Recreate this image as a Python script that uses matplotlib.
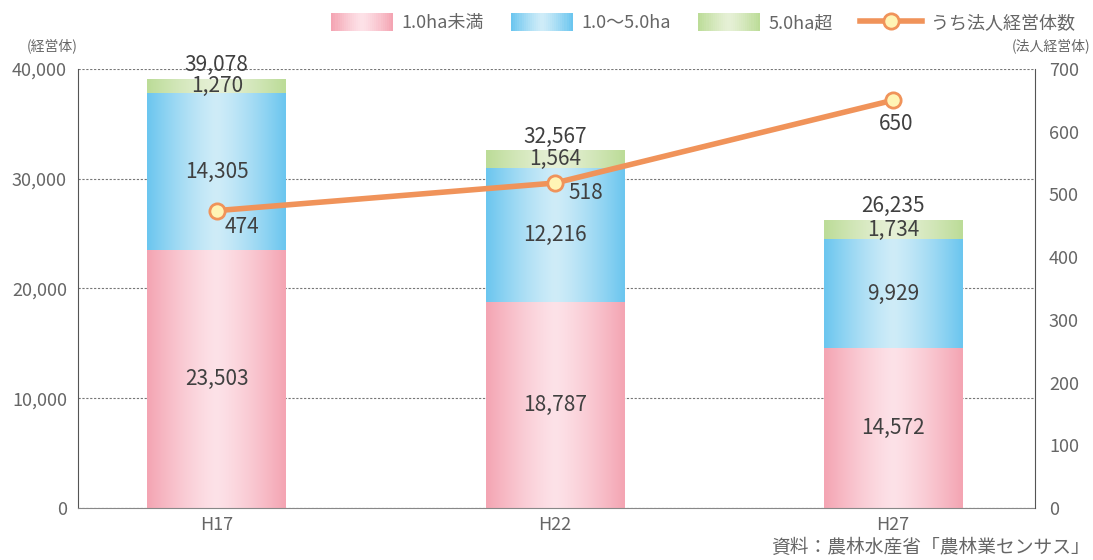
import numpy as np
import matplotlib
matplotlib.use("Agg")
import matplotlib.pyplot as plt
from matplotlib.patches import Rectangle
from matplotlib.lines import Line2D
from matplotlib.legend_handler import HandlerBase
from matplotlib.colors import to_rgb

plt.rcParams['font.family'] = ['Noto Sans CJK JP', 'DejaVu Sans']

years = ['H17', 'H22', 'H27']
small = [23503, 18787, 14572]     # 1.0ha未満
middle = [14305, 12216, 9929]     # 1.0～5.0ha
large = [1270, 1564, 1734]        # 5.0ha超
totals = [39078, 32567, 26235]
corp = [474, 518, 650]            # うち法人経営体数

seg_names = ['1.0ha未満', '1.0～5.0ha', '5.0ha超']
# (edge colour, centre colour)
seg_cols = [('#f4a5b3', '#fde2e8'), ('#6cc6ef', '#cfecf8'), ('#bcdc98', '#e6f0d6')]
line_col = '#f0935a'
text_col = '#404040'
grey = '#666666'


def grad_img(edge, centre, n=64):
    t = np.linspace(-1, 1, n)
    w = (np.abs(t) ** 1.3)[None, :, None]
    e = np.array(to_rgb(edge))[None, None, :]
    c = np.array(to_rgb(centre))[None, None, :]
    return c * (1 - w) + e * w


class GradHandler(HandlerBase):
    def __init__(self, edge, centre):
        super().__init__()
        self.edge, self.centre = edge, centre

    def create_artists(self, legend, orig_handle, xdescent, ydescent,
                       width, height, fontsize, trans):
        n = 30
        cols = grad_img(self.edge, self.centre, n)[0]
        arts = []
        for i in range(n):
            r = Rectangle((-xdescent + width * i / n, -ydescent), width / n * 1.05, height,
                          facecolor=cols[i], edgecolor='none', transform=trans)
            arts.append(r)
        return arts


fig = plt.figure(figsize=(10.93, 5.6), dpi=100)
ax = fig.add_axes([0.0714, 0.0929, 0.8756, 0.7841])
ax2 = ax.twinx()

x = np.arange(len(years))
w = 0.41
bottoms = np.zeros(len(years))
for vals, (ec, cc) in zip([small, middle, large], seg_cols):
    bars = ax.bar(x, vals, w, bottom=bottoms, color=ec, edgecolor='none', zorder=2)
    img = grad_img(ec, cc)
    for b, v, bt in zip(bars, vals, bottoms):
        x0, y0 = b.get_x(), b.get_y()
        im = ax.imshow(img, extent=[x0, x0 + b.get_width(), y0, y0 + b.get_height()],
                       aspect='auto', zorder=2.5, interpolation='bilinear')
        im.set_clip_path(b)
        ax.text(b.get_x() + b.get_width() / 2, bt + v / 2, f'{v:,}', ha='center',
                va='center', fontsize=15, color=text_col, zorder=5)
    bottoms = bottoms + np.array(vals)

for xi, tot in zip(x, totals):
    ax.text(xi, tot + 250, f'{tot:,}', ha='center', va='bottom', fontsize=15,
            color=text_col, zorder=5)

ax.set_xlim(-0.41, 2.42)
ax.set_ylim(0, 40000)
ax.set_yticks(np.arange(0, 40001, 10000))
ax.set_yticklabels([f'{v:,}' for v in range(0, 40001, 10000)])
ax.set_xticks(x)
ax.set_xticklabels(years)
ax.grid(axis='y', color='#777777', linestyle=(0, (2, 1.5)), linewidth=0.8, zorder=0)
ax.set_axisbelow(True)
ax.tick_params(axis='both', length=0, labelsize=13, colors=grey, pad=8)
ax.tick_params(axis='x', pad=6)
for s in ['top', 'right']:
    ax.spines[s].set_visible(False)
ax.spines['left'].set_color('#555555')
ax.spines['bottom'].set_color('#888888')

ax2.plot(x, corp, color=line_col, lw=4, zorder=6, marker='o', markersize=11,
         markerfacecolor='#fff4b5', markeredgecolor=line_col, markeredgewidth=2)
ax2.set_ylim(0, 700)
ax2.set_yticks(np.arange(0, 701, 100))
ax2.tick_params(axis='y', length=0, labelsize=13, colors=grey, pad=10)
for s in ['top', 'left', 'bottom']:
    ax2.spines[s].set_visible(False)
ax2.spines['right'].set_color('#555555')
offsets = [(18, -12), (22, -7), (2, -17)]
for xi, v, off in zip(x, corp, offsets):
    ax2.annotate(str(v), (xi, v), xytext=off, textcoords='offset points',
                 ha='center', va='center', fontsize=15, color=text_col, zorder=7)
ax.set_zorder(1)
ax2.set_zorder(2)
ax2.patch.set_visible(False)

fig.text(0.048, 0.905, '(経営体)', fontsize=10, color=grey, ha='center', va='bottom')
fig.text(0.962, 0.905, '(法人経営体)', fontsize=10, color=grey, ha='center', va='bottom')
fig.text(0.997, 0.003, '資料：農林水産省「農林業センサス」', fontsize=13.5, color=grey,
         ha='right', va='bottom')

proxies = [Rectangle((0, 0), 1, 1) for _ in seg_names]
hmap = {p: GradHandler(ec, cc) for p, (ec, cc) in zip(proxies, seg_cols)}
line_h = Line2D([], [], color=line_col, lw=4, marker='o', markersize=11,
                markerfacecolor='#fff4b5', markeredgecolor=line_col, markeredgewidth=2)
leg = fig.legend(proxies + [line_h], seg_names + ['うち法人経営体数'], handler_map=hmap,
                 loc='upper right', bbox_to_anchor=(0.998, 1.005), ncol=4, frameon=False,
                 fontsize=13, handlelength=3.4, handleheight=1.1, handletextpad=0.5,
                 columnspacing=1.5)
for t in leg.get_texts():
    t.set_color(grey)

fig.savefig('out.png', dpi=100)
